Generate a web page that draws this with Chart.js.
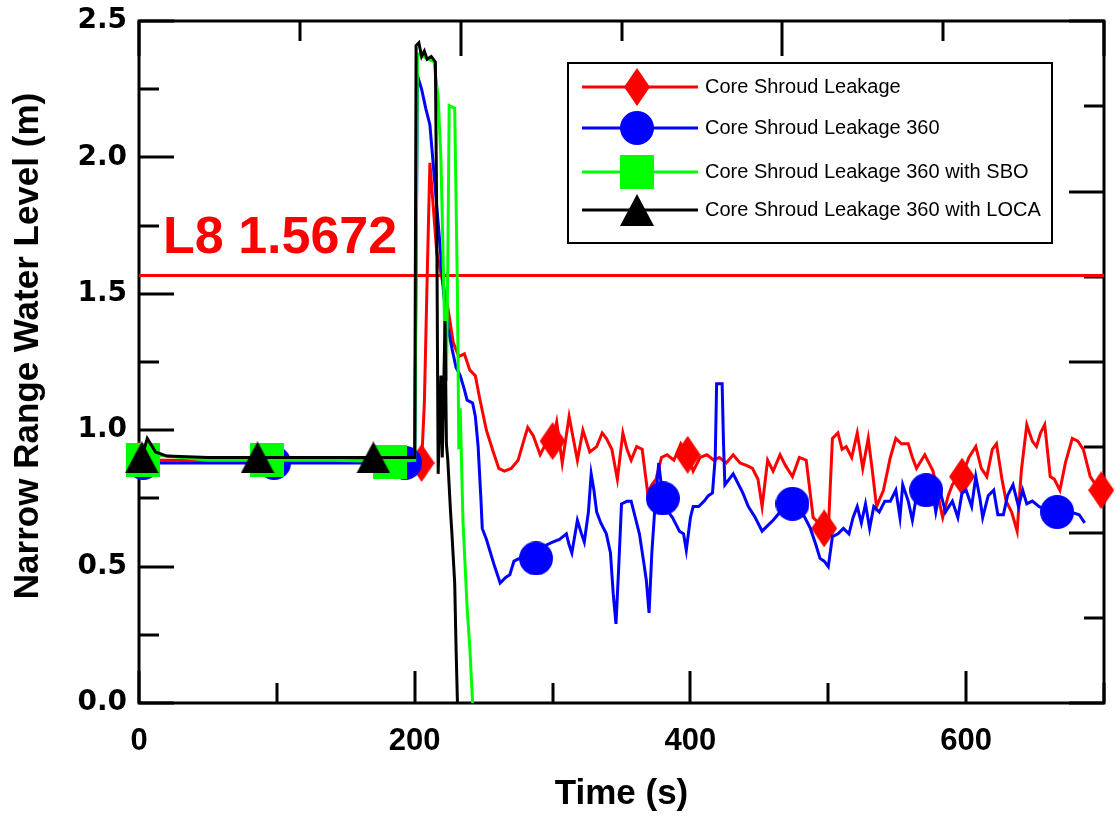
<!DOCTYPE html>
<html lang="en">
<head>
<meta charset="utf-8">
<title>Narrow Range Water Level</title>
<script src="https://cdn.jsdelivr.net/npm/chart.js@4.4.1/dist/chart.umd.min.js"></script>
<style>
  html, body { margin: 0; padding: 0; background: #fff; }
  #chartWrap { width: 1116px; height: 817px; }
</style>
</head>
<body>
<div id="chartWrap"><canvas id="levelChart" width="1116" height="817"></canvas></div>
<script>
// Dane (czas w s, poziom w m)
const seriesNames = [
  'Core Shroud Leakage',
  'Core Shroud Leakage 360',
  'Core Shroud Leakage 360 with SBO',
  'Core Shroud Leakage 360 with LOCA'
];

const redTime = [0, 100, 200, 205, 207, 209, 211, 213, 216, 220, 224, 228, 232, 236, 240, 244, 247, 252, 257, 261, 265, 270, 275, 279, 282, 286, 291, 295, 300, 303, 307, 312, 318, 322, 327, 332, 336, 339, 343, 347, 351, 354, 357, 361, 365, 369, 372, 375, 379, 383, 388, 393, 398, 402, 407, 412, 417, 421, 426, 431, 436, 441, 445, 449, 452, 456, 460, 465, 469, 474, 479, 484, 489, 493, 497, 500, 503, 507, 510, 513, 517, 521, 525, 529, 532, 535, 540, 545, 549, 553, 558, 561, 564, 570, 576, 580, 583, 587, 590, 593, 597, 602, 607, 611, 615, 619, 622, 626, 629, 633, 637, 640, 644, 648, 651, 654, 657, 661, 664, 668, 672, 677, 681, 685, 690, 694, 698];
const redLevel = [0.89, 0.89, 0.89, 0.88, 1.10, 1.55, 1.98, 1.85, 1.65, 1.55, 1.45, 1.32, 1.27, 1.28, 1.22, 1.20, 1.12, 1.00, 0.92, 0.86, 0.85, 0.86, 0.89, 0.96, 1.01, 0.98, 0.91, 0.95, 0.96, 1.03, 0.88, 1.05, 0.89, 1.00, 0.92, 0.94, 0.99, 0.97, 0.93, 0.82, 0.99, 0.93, 0.89, 0.94, 0.93, 0.77, 0.80, 0.82, 0.90, 0.91, 0.89, 0.95, 0.91, 0.85, 0.90, 0.91, 0.89, 0.90, 0.88, 0.91, 0.88, 0.87, 0.86, 0.82, 0.72, 0.89, 0.85, 0.91, 0.87, 0.83, 0.90, 0.89, 0.68, 0.66, 0.64, 0.63, 0.97, 0.99, 0.93, 0.94, 0.90, 0.99, 0.86, 0.97, 0.85, 0.72, 0.78, 0.90, 0.97, 0.95, 0.95, 0.90, 0.86, 0.91, 0.85, 0.75, 0.68, 0.76, 0.80, 0.82, 0.83, 0.90, 0.94, 0.86, 0.83, 0.93, 0.95, 0.82, 0.74, 0.70, 0.63, 0.85, 1.02, 0.96, 0.94, 0.99, 1.02, 0.83, 0.82, 0.78, 0.88, 0.97, 0.96, 0.93, 0.83, 0.80, 0.78];
const redMarks = [0, 205, 300, 398, 497, 597, 698];

const blueTime = [0, 3, 50, 98, 150, 193, 200, 202, 205, 208, 211, 213, 215, 218, 221, 224, 227, 230, 233, 236, 238, 242, 244, 246, 248, 249, 252, 255, 258, 262, 266, 269, 272, 276, 280, 284, 288, 292, 296, 300, 305, 310, 312, 314, 318, 321, 323, 326, 328, 330, 332, 335, 339, 342, 344, 346, 348, 350, 354, 357, 360, 363, 366, 368, 370, 372, 374, 377, 380, 384, 387, 390, 392, 395, 397, 400, 402, 406, 410, 413, 416, 418, 419, 423, 424, 425, 428, 431, 434, 438, 442, 447, 452, 456, 460, 465, 470, 474, 478, 483, 487, 491, 494, 497, 500, 503, 507, 511, 515, 518, 521, 524, 527, 530, 533, 537, 541, 545, 549, 552, 554, 558, 561, 565, 568, 571, 575, 578, 581, 585, 590, 594, 597, 600, 604, 607, 610, 612, 616, 620, 623, 627, 630, 634, 638, 641, 644, 648, 653, 658, 662, 666, 671, 676, 682, 686];
const blueLevel = [0.88, 0.88, 0.88, 0.88, 0.88, 0.88, 0.88, 2.30, 2.25, 2.18, 2.12, 2.00, 1.88, 1.70, 1.50, 1.38, 1.30, 1.23, 1.20, 1.15, 1.11, 1.10, 1.05, 0.94, 0.75, 0.64, 0.60, 0.55, 0.50, 0.44, 0.46, 0.47, 0.52, 0.53, 0.52, 0.52, 0.53, 0.56, 0.58, 0.59, 0.60, 0.62, 0.58, 0.55, 0.67, 0.62, 0.59, 0.70, 0.84, 0.78, 0.70, 0.66, 0.62, 0.55, 0.40, 0.29, 0.50, 0.73, 0.74, 0.74, 0.68, 0.62, 0.52, 0.45, 0.33, 0.55, 0.70, 0.88, 0.75, 0.70, 0.68, 0.65, 0.63, 0.62, 0.56, 0.68, 0.72, 0.72, 0.74, 0.76, 0.77, 0.90, 1.17, 1.17, 0.95, 0.80, 0.82, 0.84, 0.81, 0.77, 0.72, 0.68, 0.63, 0.65, 0.67, 0.70, 0.74, 0.73, 0.72, 0.68, 0.64, 0.58, 0.53, 0.52, 0.50, 0.61, 0.62, 0.64, 0.62, 0.68, 0.72, 0.66, 0.73, 0.64, 0.72, 0.70, 0.74, 0.74, 0.78, 0.68, 0.80, 0.74, 0.67, 0.79, 0.78, 0.78, 0.80, 0.70, 0.78, 0.70, 0.74, 0.68, 0.77, 0.78, 0.72, 0.83, 0.75, 0.68, 0.76, 0.78, 0.69, 0.69, 0.76, 0.80, 0.72, 0.78, 0.73, 0.74, 0.72, 0.71, 0.70, 0.70, 0.69, 0.70, 0.69, 0.66];
const blueMarks = [3, 98, 193, 288, 380, 474, 571, 666];

const greenTime = [0, 3, 6, 12, 50, 93, 140, 182, 200, 202, 206, 210, 214, 217, 219, 220, 222, 223, 224, 225, 229, 231, 232, 233, 235, 238, 240, 242];
const greenLevel = [0.89, 0.89, 0.94, 0.91, 0.89, 0.89, 0.89, 0.885, 0.89, 2.38, 2.37, 2.36, 2.35, 2.22, 2.00, 1.77, 1.30, 1.18, 1.60, 2.19, 2.18, 1.50, 0.93, 1.08, 0.67, 0.35, 0.20, 0.00];
const greenMarks = [3, 93, 182];

const blackTime = [0, 2, 6, 12, 20, 50, 86, 130, 170, 200, 201, 203, 205, 207, 209, 212, 215, 216, 217, 219, 220, 222, 223, 224, 226, 227, 229, 230, 231];
const blackLevel = [0.90, 0.90, 0.97, 0.92, 0.905, 0.90, 0.90, 0.90, 0.90, 0.90, 2.41, 2.42, 2.37, 2.39, 2.36, 2.37, 2.35, 1.76, 0.84, 1.20, 0.90, 1.40, 0.95, 0.89, 0.70, 0.62, 0.44, 0.20, 0.00];
const blackMarks = [2, 86, 170];

const L8_LEVEL = 1.5672;
const xTicks = [0, 200, 400, 600];
const yTicks = [0, 0.5, 1.0, 1.5, 2.0, 2.5];

// Markery rysowane na osobnym canvasie
function makeMarker(shape, color, w, h) {
  const c = document.createElement('canvas');
  c.width = w;
  c.height = h;
  const g = c.getContext('2d');
  g.fillStyle = color;
  g.beginPath();
  if (shape === 'diamond') {
    g.moveTo(w / 2, 0); g.lineTo(w, h / 2); g.lineTo(w / 2, h); g.lineTo(0, h / 2);
  } else if (shape === 'circle') {
    g.arc(w / 2, h / 2, w / 2, 0, Math.PI * 2);
  } else if (shape === 'square') {
    g.rect(0, 0, w, h);
  } else {
    g.moveTo(w / 2, 0); g.lineTo(w, h); g.lineTo(0, h);
  }
  g.closePath();
  g.fill();
  return c;
}

const markers = [
  makeMarker('diamond', '#ff0000', 26, 38),
  makeMarker('circle', '#0000ff', 34, 34),
  makeMarker('square', '#00ff00', 34, 34),
  makeMarker('triangle', '#000000', 34, 32)
];
const colors = ['#ff0000', '#0000ff', '#00ff00', '#000000'];

function toPoints(xs, ys) {
  return xs.map((x, i) => ({ x: x, y: ys[i] }));
}

function makeSeries(idx, xs, ys, marks) {
  return {
    label: seriesNames[idx],
    data: toPoints(xs, ys),
    borderColor: colors[idx],
    backgroundColor: colors[idx],
    borderWidth: 3,
    tension: 0,
    pointStyle: markers[idx],
    pointRadius: ctx => (ctx.raw && marks.includes(ctx.raw.x)) ? 17 : 0,
    pointHoverRadius: 0,
    clip: false,
    order: 4 - idx
  };
}

// Ramka osi z kreskami podziałki po wszystkich stronach
const framePlugin = {
  id: 'frame',
  beforeDatasetsDraw(chart) {
    const { ctx, chartArea: a, scales } = chart;
    const xs = scales.x, ys = scales.y;
    ctx.save();
    ctx.strokeStyle = '#000';
    ctx.lineWidth = 3;
    ctx.lineCap = 'butt';
    ctx.beginPath();
    // dolna oś co 100 s
    for (let t = 0; t <= 700; t += 100) {
      const px = Math.round(xs.getPixelForValue(t));
      const len = t % 200 === 0 ? 32 : 20;
      ctx.moveTo(px, a.bottom); ctx.lineTo(px, a.bottom - len);
    }
    // lewa oś co 0.25 m
    for (let k = 0; k <= 10; k++) {
      const py = Math.round(ys.getPixelForValue(k * 0.25));
      const len = k % 2 === 0 ? 35 : 20;
      ctx.moveTo(a.left, py); ctx.lineTo(a.left + len, py);
    }
    // górna oś: 6 przedziałów
    for (let k = 0; k <= 6; k++) {
      const px = Math.round(a.left + (a.right - a.left) * k / 6);
      const len = k % 2 === 0 ? 35 : 20;
      ctx.moveTo(px, a.top); ctx.lineTo(px, a.top + len);
    }
    // prawa oś: 8 przedziałów
    for (let k = 0; k <= 8; k++) {
      const py = Math.round(a.bottom - (a.bottom - a.top) * k / 8);
      const len = k % 2 === 0 ? 35 : 20;
      ctx.moveTo(a.right, py); ctx.lineTo(a.right - len, py);
    }
    ctx.stroke();
    ctx.strokeRect(a.left, a.top, a.right - a.left, a.bottom - a.top);

    // etykieta poziomu L8
    ctx.fillStyle = '#ff0000';
    ctx.font = 'bold 52px "Liberation Sans", Arial, sans-serif';
    ctx.textBaseline = 'alphabetic';
    ctx.textAlign = 'left';
    ctx.fillText('L8 ' + L8_LEVEL, xs.getPixelForValue(0) + 24, ys.getPixelForValue(L8_LEVEL) - 22);
    ctx.restore();
  },
  afterDraw(chart) {
    // tytuł osi Y (przesunięty nieco w górę względem środka osi)
    const ctx = chart.ctx;
    ctx.save();
    ctx.translate(28, 346);
    ctx.rotate(-Math.PI / 2);
    ctx.fillStyle = '#000';
    ctx.font = 'bold 35px "Liberation Sans", Arial, sans-serif';
    ctx.textAlign = 'center';
    ctx.textBaseline = 'middle';
    ctx.fillText('Narrow Range Water Level (m)', 0, 0);
    ctx.restore();
  }
};

// Legenda w ramce (linia z markerem pośrodku)
const legendPlugin = {
  id: 'boxLegend',
  afterDraw(chart) {
    const ctx = chart.ctx;
    const box = { x: 568, y: 63, w: 484, h: 180 };
    const rows = [87, 128, 172, 210];
    ctx.save();
    ctx.fillStyle = '#fff';
    ctx.fillRect(box.x, box.y, box.w, box.h);
    ctx.strokeStyle = '#000';
    ctx.lineWidth = 2;
    ctx.strokeRect(box.x, box.y, box.w, box.h);
    ctx.font = '20px "Liberation Sans", Arial, sans-serif';
    ctx.textBaseline = 'middle';
    seriesNames.forEach((name, i) => {
      const y = rows[i];
      ctx.strokeStyle = colors[i];
      ctx.lineWidth = 3;
      ctx.beginPath();
      ctx.moveTo(582, y); ctx.lineTo(698, y);
      ctx.stroke();
      const m = markers[i];
      ctx.drawImage(m, 637 - m.width / 2, y - m.height / 2);
      ctx.fillStyle = '#000';
      ctx.fillText(name, 705, y);
    });
    ctx.restore();
  }
};

function initWaterLevelChart() {
  const el = document.getElementById('levelChart');
  if (!el) return;

  new Chart(el, {
    type: 'line',
    data: {
      datasets: [
        makeSeries(0, redTime, redLevel, redMarks),
        makeSeries(1, blueTime, blueLevel, blueMarks),
        makeSeries(2, greenTime, greenLevel, greenMarks),
        makeSeries(3, blackTime, blackLevel, blackMarks),
        {
          label: 'L8',
          data: [{ x: 0, y: L8_LEVEL }, { x: 700, y: L8_LEVEL }],
          borderColor: '#ff0000',
          borderWidth: 3,
          pointRadius: 0,
          order: 10
        }
      ]
    },
    options: {
      responsive: false,
      animation: false,
      events: [],
      layout: {
        autoPadding: false,
        padding: { top: 21, right: 12, left: 0, bottom: 0 }
      },
      plugins: {
        legend: { display: false },
        tooltip: { enabled: false }
      },
      scales: {
        x: {
          type: 'linear',
          min: 0,
          max: 700,
          afterFit: s => {
            s.height = 114;
            s.paddingLeft = 0;
            s.paddingRight = 0;
          },
          afterBuildTicks: s => { s.ticks = xTicks.map(v => ({ value: v })); },
          grid: { display: false, drawTicks: false },
          border: { display: false },
          ticks: {
            color: '#000',
            padding: 0,
            maxRotation: 0,
            font: { family: '"Liberation Sans", Arial, sans-serif', size: 31, weight: 'bold', lineHeight: 2.5 },
            callback: v => String(v)
          },
          title: {
            display: true,
            text: 'Time (s)',
            color: '#000',
            padding: { top: 0, bottom: 2 },
            font: { family: '"Liberation Sans", Arial, sans-serif', size: 35, weight: 'bold' }
          }
        },
        y: {
          type: 'linear',
          min: 0,
          max: 2.5,
          afterFit: s => {
            s.width = 139;
            s.paddingTop = 0;
            s.paddingBottom = 0;
          },
          afterBuildTicks: s => { s.ticks = yTicks.map(v => ({ value: v })); },
          grid: { display: false, drawTicks: false },
          border: { display: false },
          ticks: {
            color: '#000',
            padding: 12,
            font: { family: '"DejaVu Sans", Verdana, sans-serif', size: 28, weight: 'bold' },
            callback: v => v.toFixed(1)
          }
        }
      }
    },
    plugins: [framePlugin, legendPlugin]
  });
}

document.addEventListener('DOMContentLoaded', function() {
  initWaterLevelChart();
});
</script>
</body>
</html>
